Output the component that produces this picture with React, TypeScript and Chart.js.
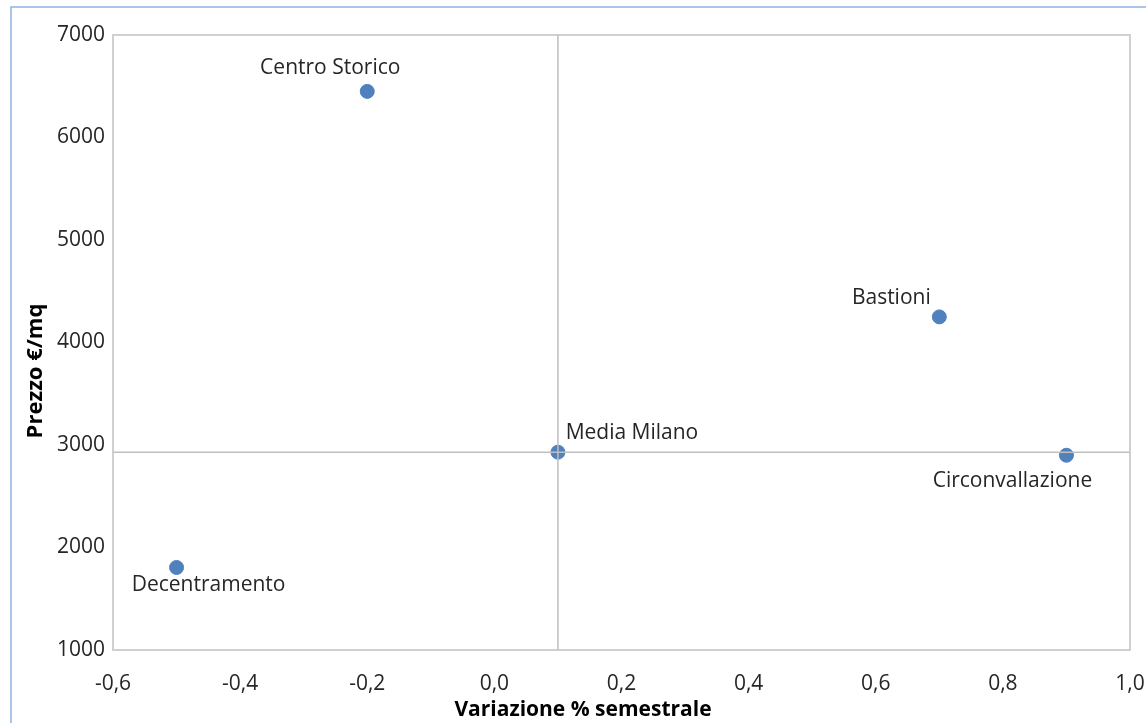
import React, { useEffect, useRef } from "react";
import { Chart, registerables } from "chart.js";

Chart.register(...registerables);

const zoneNames = ["Centro Storico", "Bastioni", "Media Milano", "Circonvallazione", "Decentramento"];
const variazioni = [-0.2, 0.7, 0.1, 0.9, -0.5];
const prezzi = [6450, 4250, 2930, 2900, 1805];
const mediaIndex = 2;
const xTickMin = -0.6;
const xTickMax = 1.0;
const yTickMin = 1000;
const yTickMax = 7000;
const xTitle = "Variazione % semestrale";
const yTitle = "Prezzo €/mq";

// label placement relative to point (pixels)
const labelOffsets: [number, number][] = [
  [-37, -23],
  [-48, -19],
  [74, -19],
  [-54, 26],
  [32, 18],
];

const FONT = "'Open Sans', Lato, sans-serif";

export default function App() {
  const ref = useRef<HTMLCanvasElement | null>(null);

  useEffect(() => {
    const canvas = ref.current;
    if (!canvas) return;

    const framePlugin = {
      id: "frame",
      beforeDraw(chart: any) {
        const ctx = chart.ctx;
        ctx.save();
        ctx.strokeStyle = "#8db4e2";
        ctx.lineWidth = 1.5;
        ctx.beginPath();
        ctx.moveTo(11, 730);
        ctx.lineTo(11, 7);
        ctx.lineTo(1150, 7);
        ctx.stroke();
        const a = chart.chartArea;
        ctx.strokeStyle = "#d0d0d0";
        ctx.lineWidth = 2;
        ctx.strokeRect(a.left, a.top, a.right - a.left, a.bottom - a.top);
        ctx.restore();
      },
      afterDatasetsDraw(chart: any) {
        const ctx = chart.ctx;
        const a = chart.chartArea;
        const xs = chart.scales.x;
        const ys = chart.scales.y;
        const mx = xs.getPixelForValue(variazioni[mediaIndex]);
        const my = ys.getPixelForValue(prezzi[mediaIndex]);
        ctx.save();
        ctx.strokeStyle = "#bfbfbf";
        ctx.lineWidth = 1.5;
        ctx.beginPath();
        ctx.moveTo(mx, a.top);
        ctx.lineTo(mx, a.bottom);
        ctx.moveTo(a.left, my);
        ctx.lineTo(a.right, my);
        ctx.stroke();
        ctx.font = `21px ${FONT}`;
        ctx.fillStyle = "#262626";
        ctx.textAlign = "center";
        ctx.textBaseline = "middle";
        zoneNames.forEach((name, i) => {
          const px = xs.getPixelForValue(variazioni[i]);
          const py = ys.getPixelForValue(prezzi[i]);
          const [dx, dy] = labelOffsets[i];
          ctx.fillText(name, px + dx, py + dy);
        });
        // axis titles
        ctx.fillStyle = "#000000";
        ctx.font = `bold 21px ${FONT}`;
        ctx.fillText(xTitle, 583, 710);
        ctx.translate(36, 371);
        ctx.rotate(-Math.PI / 2);
        ctx.font = `bold 22px ${FONT}`;
        ctx.fillText(yTitle, 0, 0);
        ctx.restore();
      },
    };

    const chart = new Chart(canvas, {
      type: "scatter",
      data: {
        datasets: [
          {
            label: "Zone",
            data: variazioni.map((v, i) => ({ x: v, y: prezzi[i] })),
            backgroundColor: "#4f81bd",
            borderColor: "#4f81bd",
            pointRadius: 7,
            pointHoverRadius: 7,
          },
        ],
      },
      options: {
        animation: false,
        responsive: true,
        maintainAspectRatio: false,
        layout: { padding: { left: 0, top: 35, right: 16, bottom: 0 } },
        plugins: {
          legend: { display: false },
          tooltip: { enabled: false },
        },
        scales: {
          x: {
            type: "linear",
            min: xTickMin,
            max: xTickMax,
            grid: { display: false, drawTicks: false },
            border: { display: false },
            ticks: {
              stepSize: 0.2,
              padding: 21,
              color: "#262626",
              font: { family: FONT, size: 21 },
              callback: (v: any) => {
                let n = Number(v);
                if (Math.abs(n) < 1e-9) n = 0;
                return n.toFixed(1).replace(".", ",");
              },
            },
            title: { display: false },
            afterFit: (s: any) => {
              s.height = 73;
              s.paddingLeft = 0;
              s.paddingRight = 0;
            },
          },
          y: {
            type: "linear",
            min: yTickMin,
            max: yTickMax,
            grid: { display: false, drawTicks: false },
            border: { display: false },
            ticks: {
              stepSize: 1000,
              padding: 8,
              color: "#262626",
              font: { family: FONT, size: 21 },
              callback: (v: any) => String(Math.round(Number(v))),
            },
            title: { display: false },
            afterFit: (s: any) => {
              s.width = 113;
              s.paddingTop = 0;
              s.paddingBottom = 0;
            },
          },
        },
      },
      plugins: [framePlugin],
    });

    return () => chart.destroy();
  }, []);

  return (
    <div style={{ position: "fixed", left: 0, top: 0, width: 1146, height: 723, background: "#ffffff" }}>
      <canvas ref={ref} />
    </div>
  );
}
